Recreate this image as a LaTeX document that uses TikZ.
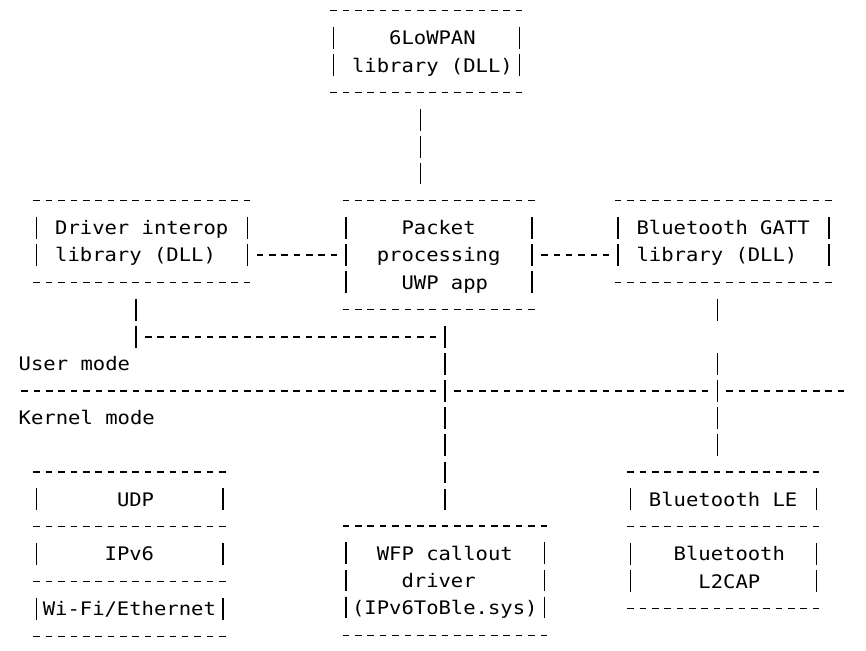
\documentclass[tikz,border=0pt]{standalone}
\usepackage{fontspec}
\setmonofont[FakeStretch=1.1007]{DejaVu Sans Mono}
\usetikzlibrary{positioning,calc}

\newlength{\charw}
\setlength{\charw}{9.2775pt}
\newcommand{\lpad}[1]{\rule[-5.07pt]{0pt}{20.3475pt}\hspace*{#1\charw}}
\newcommand{\blank}{\hspace*{\charw}}

\begin{document}
\begin{tikzpicture}[x=9.2775pt, y=-20.3475pt, font=\ttfamily\fontsize{14pt}{20.3475pt}\selectfont]
        \tikzstyle{hyph}=[line width=1.1pt, dash pattern=on 4.95pt off 4.3275pt]
        \tikzstyle{bar}=[line width=1.1pt, dash pattern=on 16.275pt off 4.0725pt]
        \tikzstyle{brokenbar}=[bar, dash pattern=on 16.275pt off 24.42pt on 16.275pt off 4.0725pt on 16.275pt off 4.0725pt on 16.275pt off 4.0725pt on 16.275pt off 30pt]
        \tikzset{asciibox/.style 2 args={inner sep=0pt, align=left,
            text width={(#1-2)*9.2775pt+0.6pt},
            minimum width={#1*9.2775pt-4.3275pt}, minimum height={#2*20.3475pt},
            append after command={
              (\tikzlastnode.north west) edge[hyph] (\tikzlastnode.north east)
              (\tikzlastnode.south west) edge[hyph] (\tikzlastnode.south east)
              ([xshift=2.475pt,yshift=-12.21pt]\tikzlastnode.north west) edge[bar] ([xshift=2.475pt,yshift=12.21pt]\tikzlastnode.south west)
              ([xshift=-2.475pt,yshift=-12.21pt]\tikzlastnode.north east) edge[bar] ([xshift=-2.475pt,yshift=12.21pt]\tikzlastnode.south east)}}}
        \useasboundingbox (-1.991,-0.405) rectangle (68.017,23.590);

        \node[asciibox={16}{3}] (lowpan) at (32.5,1.5)  {\lpad{4}6LoWPAN\\\lpad{1}library\blank(DLL)};
        \node[asciibox={18}{3}] (driver) at (9.5,8.5)   {\lpad{1}Driver\blank interop\\\lpad{1}library\blank(DLL)};
        \node[asciibox={16}{4}] (packet) at (33.5,9)    {\lpad{4}Packet\\\lpad{2}processing\\\lpad{4}UWP\blank app};
        \node[asciibox={18}{3}] (gatt)   at (56.5,8.5)  {\lpad{1}Bluetooth\blank GATT\\\lpad{1}library\blank(DLL)};
        \node[asciibox={16}{2}] (udp)    at (8.5,18)    {\lpad{6}UDP};
        \node[asciibox={16}{2}] (ipv6)   [below=0pt of udp]  {\lpad{5}IPv6};
        \node[asciibox={16}{2}] (wifi)   [below=0pt of ipv6] {\lpad{0}Wi-Fi/Ethernet};
        \node[asciibox={17}{4}] (wfp)    at (34,21)     {\lpad{2}WFP\blank callout\\\lpad{4}driver\\\lpad{0}(IPv6ToBle.sys)};
        \node[asciibox={16}{2}] (btle)   at (56.5,18)   {\lpad{1}Bluetooth\blank LE};
        \node[asciibox={16}{3}] (l2cap)  [below=0pt of btle] {\lpad{3}Bluetooth\\\lpad{5}L2CAP};
        \node[anchor=west, inner sep=0pt] (usermode)   at (-0.5,13) {\lpad{0}User\blank mode};
        \node[anchor=west, inner sep=0pt] (kernelmode) at (-0.5,15) {\lpad{0}Kernel\blank mode};
        \coordinate (tap) at ($(driver.south)+(-0.5,2)$);

        \foreach \a/\b in {0/33,35/55,57/66}
            \draw[hyph] (\a-0.2667,14) -- (\b+0.2667,14);

        \draw[bar, shorten <=12.21pt, shorten >=12.21pt] ($(lowpan.south)+(-0.5,0)$) -- ($(packet.north)+(-1.5,0)$);
        \draw[hyph, shorten <=4.3275pt, shorten >=4.3275pt] (driver.east |- packet.west) -- (packet.west);
        \draw[hyph, shorten <=4.3275pt, shorten >=4.3275pt] (packet.east) -- (gatt.west |- packet.east);
        \draw[bar, shorten <=12.21pt, shorten >=12.21pt] (packet.south -| wfp.north) -- (wfp.north);
        \draw[bar, shorten <=12.21pt, shorten >=-8.1375pt] (driver.south -| tap) -- (tap);
        \draw[hyph, shorten <=6.8025pt, shorten >=6.8025pt] (tap) -- (tap -| wfp.north);
        \draw[brokenbar, shorten <=12.21pt, shorten >=12.21pt] ($(gatt.south)+(-0.5,0)$) -- ($(btle.north)+(-0.5,0)$);
\end{tikzpicture}
\end{document}
